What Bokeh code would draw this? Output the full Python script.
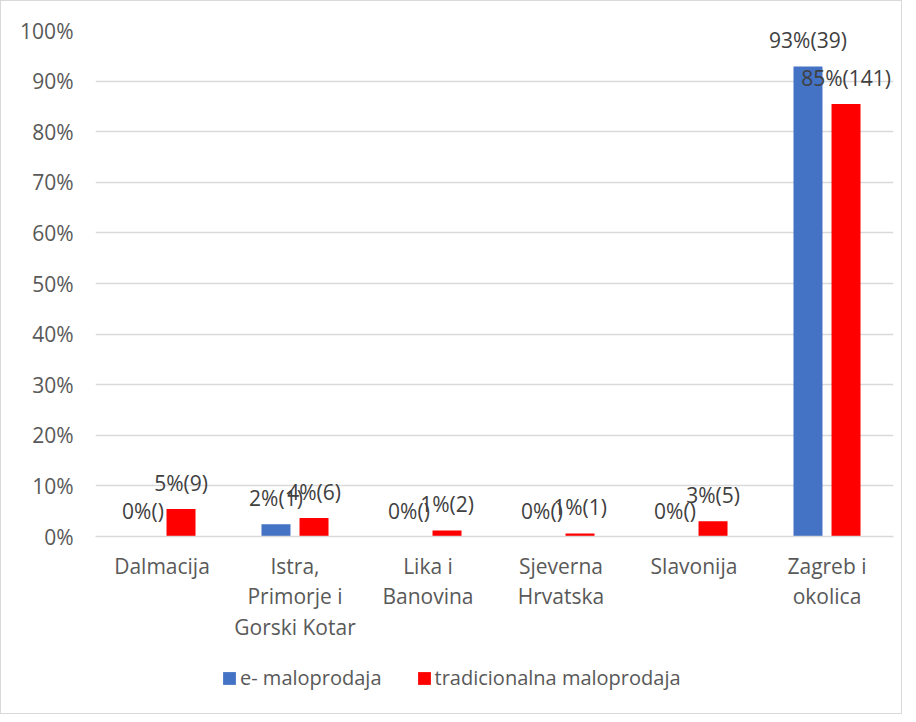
from bokeh.plotting import figure
from bokeh.layouts import column
from bokeh.models import ColumnDataSource, FactorRange, Range1d, Legend, LegendItem, NumeralTickFormatter, FixedTicker
from bokeh.transform import dodge
from bokeh.core.properties import value
from bokeh.embed import file_html
from bokeh.resources import INLINE

regions = ["Dalmacija", "Istra,\nPrimorje i\nGorski Kotar", "Lika i\nBanovina",
           "Sjeverna\nHrvatska", "Slavonija", "Zagreb i\nokolica"]
e_share = [0.0, 0.024, 0.0, 0.0, 0.0, 0.929]
e_count = ["", "1", "", "", "", "39"]
t_share = [0.0545, 0.0364, 0.0121, 0.0061, 0.0303, 0.8545]
t_count = ["9", "6", "2", "1", "5", "141"]
y_ticks = [0.0, 0.1, 0.2, 0.3, 0.4, 0.5, 0.6, 0.7, 0.8, 0.9, 1.0]
series_names = ["e- maloprodaja", "tradicionalna maloprodaja"]

FONT = "Open Sans"
FS = "21px"
BLUE = "#4472C4"
RED = "#FF0000"

def lab(shares, counts):
    return [f"{round(s * 100):.0f}%({c})" for s, c in zip(shares, counts)]

src = ColumnDataSource(dict(
    region=regions,
    e=e_share, t=t_share,
    e_lab=lab(e_share, e_count), t_lab=lab(t_share, t_count),
))

p = figure(x_range=FactorRange(factors=regions), y_range=Range1d(0, 1.0),
           width=900, height=650, output_backend="svg", toolbar_location=None,
           min_border_left=94, min_border_right=8, min_border_top=29, min_border_bottom=115)

OFF = 0.143
W = 0.218
p.vbar(x=dodge("region", -OFF, range=p.x_range), top="e", width=W, bottom=0,
       source=src, fill_color=BLUE, line_color=None)
p.vbar(x=dodge("region", OFF, range=p.x_range), top="t", width=W, bottom=0,
       source=src, fill_color=RED, line_color=None)

for col, off in (("e", -OFF), ("t", OFF)):
    p.text(x=dodge("region", off, range=p.x_range), y=col, text=col + "_lab", source=src,
           text_align="center", text_baseline="bottom", y_offset=-12,
           text_font=value(FONT), text_font_size=FS, text_color="#404040")

p.outline_line_color = None
p.xgrid.grid_line_color = None
p.ygrid.grid_line_color = "#d9d9d9"
p.ygrid.grid_line_width = 1.3
p.yaxis.ticker = FixedTicker(ticks=y_ticks)
p.yaxis.formatter = NumeralTickFormatter(format="0%")
p.yaxis.axis_line_color = None
p.yaxis.major_tick_line_color = None
p.yaxis.minor_tick_line_color = None
p.yaxis.major_label_standoff = 16
p.xaxis.axis_line_color = "#d9d9d9"
p.xaxis.axis_line_width = 1.3
p.xaxis.major_tick_line_color = None
p.xaxis.major_label_standoff = 9
p.xaxis.major_label_text_line_height = 1.1
for ax in (p.xaxis, p.yaxis):
    ax.major_label_text_font = FONT
    ax.major_label_text_font_size = FS
    ax.major_label_text_color = "#595959"

# legend strip (zero-height placeholder bars only carry the legend swatches)
lg = figure(width=900, height=62, output_backend="svg", toolbar_location=None,
            x_range=Range1d(0, 1), y_range=Range1d(0, 1),
            x_axis_location=None, y_axis_location=None,
            min_border_left=0, min_border_right=0, min_border_top=0, min_border_bottom=0)
lg.grid.visible = False
lg.outline_line_color = None
dummy = ColumnDataSource(dict(x=[0.0], top=[0.0]))
d1 = lg.vbar(x="x", top="top", width=0.0, source=dummy, fill_color=BLUE, line_color=None)
d2 = lg.vbar(x="x", top="top", width=0.0, source=dummy, fill_color=RED, line_color=None)
legend = Legend(items=[LegendItem(label=series_names[0], renderers=[d1]),
                       LegendItem(label=series_names[1], renderers=[d2])],
                orientation="horizontal", location=(126, 22),
                glyph_width=16, glyph_height=16, label_standoff=3, spacing=34,
                padding=0, margin=0, border_line_color=None, background_fill_alpha=0,
                label_text_font=FONT, label_text_font_size="20px", label_text_color="#595959")
lg.add_layout(legend, "center")

layout = column(p, lg, spacing=0)
layout.styles = {"border": "1px solid #d9d9d9"}

open("out.html", "w").write(file_html(layout, INLINE))
